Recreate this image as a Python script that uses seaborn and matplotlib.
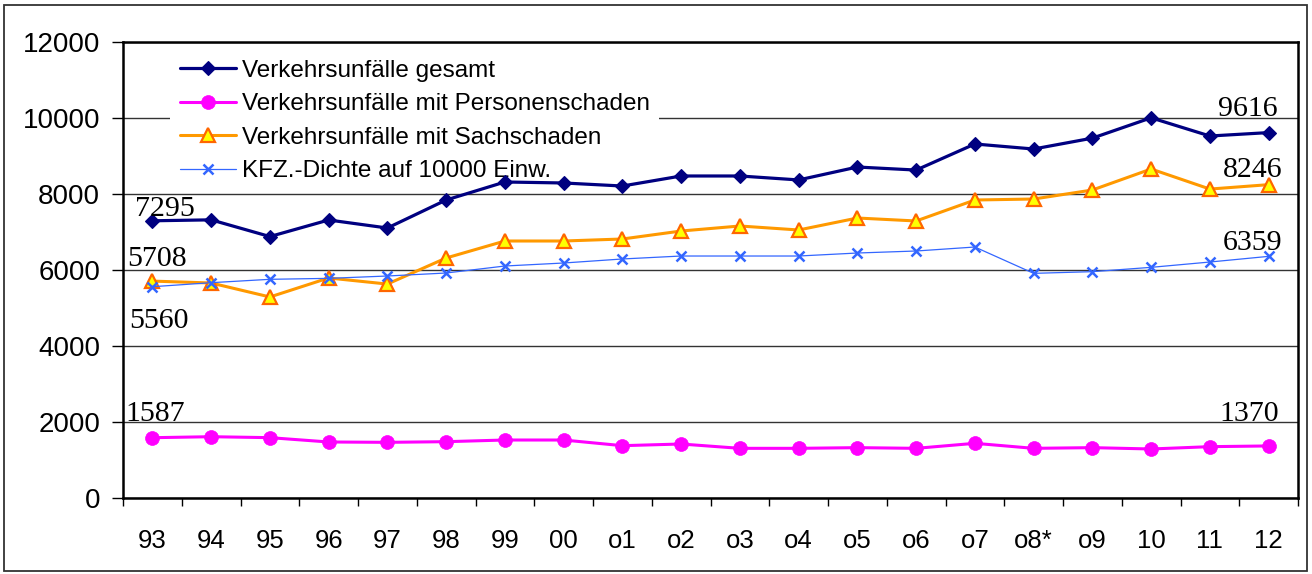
import numpy as np
import matplotlib
matplotlib.use("Agg")
import matplotlib.pyplot as plt
import seaborn as sns
from matplotlib.patches import Rectangle
from matplotlib.ticker import FixedLocator

years = ["93", "94", "95", "96", "97", "98", "99", "00", "o1", "o2", "o3", "o4",
         "o5", "o6", "o7", "o8*", "o9", "10", "11", "12"]
gesamt = [7295, 7320, 6880, 7316, 7105, 7842, 8316, 8290, 8210, 8474, 8474, 8370,
          8710, 8630, 9316, 9184, 9470, 10005, 9526, 9616]
personen = [1587, 1613, 1588, 1474, 1465, 1482, 1526, 1526, 1377, 1421, 1307, 1307,
            1325, 1307, 1439, 1307, 1325, 1290, 1351, 1370]
sach = [5708, 5658, 5290, 5790, 5630, 6316, 6763, 6763, 6816, 7026, 7158, 7053,
        7368, 7290, 7842, 7868, 8105, 8658, 8130, 8246]
kfz = [5560, 5666, 5755, 5780, 5842, 5921, 6105, 6184, 6290, 6368, 6368, 6368,
       6447, 6500, 6605, 5912, 5956, 6070, 6210, 6359]
labels = ["Verkehrsunfälle gesamt", "Verkehrsunfälle mit Personenschaden",
          "Verkehrsunfälle mit Sachschaden", "KFZ.-Dichte auf 10000 Einw."]
y_ticks = [0, 2000, 4000, 6000, 8000, 10000, 12000]

sns.set_style("white")
plt.rcParams["font.family"] = ["Liberation Sans", "DejaVu Sans"]
plt.rcParams["text.color"] = "black"
plt.rcParams["xtick.color"] = "black"
plt.rcParams["ytick.color"] = "black"
plt.rcParams["xtick.labelcolor"] = "black"
plt.rcParams["ytick.labelcolor"] = "black"

fig = plt.figure(figsize=(13.12, 5.74), dpi=100)
ax = fig.add_axes([123 / 1312, 1 - 498 / 574, (1298 - 123) / 1312, (498 - 42) / 574])

x = np.arange(len(years))

sns.lineplot(x=x, y=gesamt, ax=ax, color="#000080", lw=2.3, marker="D",
             markersize=7, markerfacecolor="#000080", markeredgecolor="#000080",
             mew=0.8, label=labels[0], zorder=4)
sns.lineplot(x=x, y=personen, ax=ax, color="#FF00FF", lw=2.2, marker="o",
             markersize=10, markerfacecolor="#FF00FF", markeredgecolor="#FF00FF",
             mew=0.5, label=labels[1], zorder=4)
sns.lineplot(x=x, y=sach, ax=ax, color="#FF9900", lw=2.2, marker="^",
             markersize=9.5, markerfacecolor="#FFFF00", markeredgecolor="#FF6600",
             mew=1.6, label=labels[2], zorder=3)
sns.lineplot(x=x, y=kfz, ax=ax, color="#3366FF", lw=0.9, marker="x",
             markersize=6.5, markeredgecolor="#3366FF", mew=1.8,
             label=labels[3], zorder=5)

ax.set_xlim(-0.5, len(years) - 0.5)
ax.set_ylim(0, 12000)
ax.set_yticks(y_ticks)
ax.set_yticklabels([str(v) for v in y_ticks], fontsize=20, color="black")
ax.set_xticks(x)
ax.set_xticklabels(years, fontsize=18.5, color="black")
ax.xaxis.set_minor_locator(FixedLocator(np.arange(-0.5, len(years), 1.0)))
ax.tick_params(axis="x", which="major", length=0, pad=22)
ax.tick_params(axis="x", which="minor", length=6, width=1, color="black", bottom=True)
ax.tick_params(axis="y", which="major", length=8, width=1, color="black", pad=8.5, left=True)
ax.set_xlabel("")
ax.set_ylabel("")

ax.set_axisbelow(True)
ax.yaxis.grid(True, color="#333333", lw=1.0)
ax.xaxis.grid(False)
for s in ax.spines.values():
    s.set_color("black")
    s.set_linewidth(1.8)

leg = ax.legend(loc="upper left", bbox_to_anchor=((170 - 123) / 1175, (498 - 50) / 456),
                borderaxespad=0, frameon=True, facecolor="white", edgecolor="none",
                framealpha=1, fancybox=False, fontsize=17.5, handlelength=2.3,
                handletextpad=0.25, labelspacing=0.47, borderpad=0.4, numpoints=1,
                labelcolor="black")
leg.set_zorder(1)

serif = ["Liberation Serif", "DejaVu Serif"]
def note(i, val, dx, dy, ha):
    ax.annotate(str(val), xy=(x[i], val), xytext=(dx, dy), textcoords="offset pixels",
                ha=ha, va="baseline", fontsize=21.5, family=serif, color="black", zorder=6)

n = len(years) - 1
note(0, gesamt[0], -17, 5, "left")
note(0, sach[0], -25, 15, "left")
note(0, kfz[0], -23, -41, "left")
note(0, personen[0], -27, 17, "left")
note(n, gesamt[n], 9, 17, "right")
note(n, sach[n], 14, 8, "right")
note(n, kfz[n], 14, 6, "right")
note(n, personen[n], 10, 25, "right")

fig.patches.append(Rectangle((4 / 1312, 3 / 574), 1303 / 1312, 566 / 574,
                             transform=fig.transFigure, fill=False,
                             edgecolor="#333333", lw=1.3))

fig.savefig("out.png", dpi=100)
